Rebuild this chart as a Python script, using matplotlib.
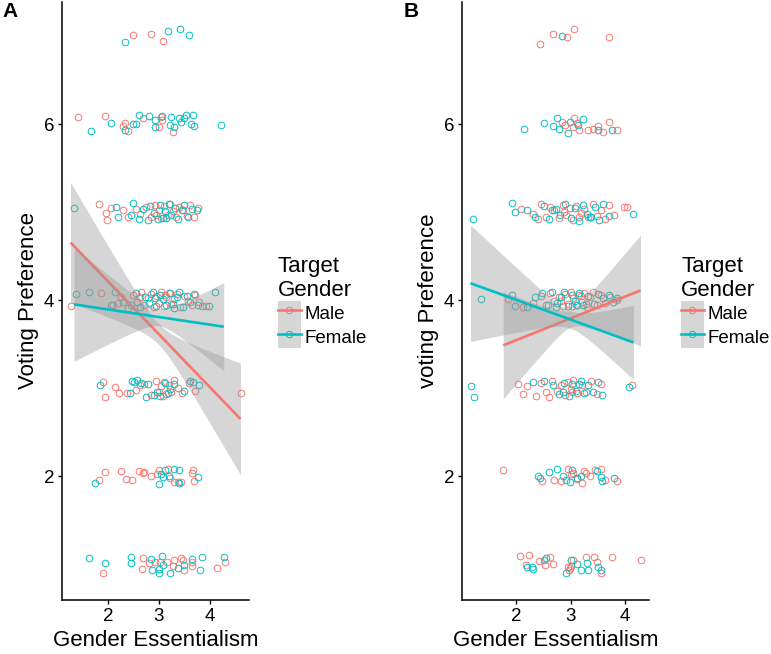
import numpy as np
import matplotlib
matplotlib.use("Agg")
import matplotlib.pyplot as plt
from matplotlib.lines import Line2D
from matplotlib.patches import Patch
from matplotlib.legend_handler import HandlerTuple

plt.rcParams['font.family'] = ['Liberation Sans', 'DejaVu Sans']

MALE_COLOR = "#F8766D"
FEMALE_COLOR = "#00BFC4"
BAND_COLOR = "#999999"

# ---- panel A points (jittered), grouped by response level ----
A_MALE_X = (
    [2.50, 2.85, 3.09]                                                       # 7
    + [1.41, 1.94, 2.30, 2.34, 2.40, 2.69, 3.01, 3.05, 3.07, 3.27]           # 6
    + [1.82, 2.05, 1.96, 1.98, 2.40, 2.55, 2.62, 2.75, 2.85, 2.92, 3.00, 3.05, 3.10,
       3.18, 3.22, 3.28, 3.33, 3.40, 3.48, 3.55, 3.62, 3.70, 3.78, 2.30, 2.95]  # 5
    + [1.26, 1.86, 2.10, 2.25, 2.40, 2.50, 2.58, 2.65, 2.70, 2.78, 2.85, 2.90, 2.95,
       3.00, 3.05, 3.10, 3.15, 3.20, 3.25, 3.30, 3.35, 3.42, 3.50, 3.58, 3.65, 3.72,
       3.80, 3.85, 3.93, 2.20, 2.62, 3.12]                                   # 4
    + [1.90, 2.13, 2.22, 1.94, 2.37, 2.55, 2.70, 2.85, 2.95, 3.00, 3.05, 3.10, 3.15,
       3.20, 3.25, 3.30, 3.38, 3.45, 3.60, 3.72, 4.61, 2.62, 3.08]           # 3
    + [1.94, 1.82, 2.26, 2.36, 2.48, 2.61, 2.69, 2.71, 2.85, 2.97, 3.01, 3.19, 3.23,
       3.29, 3.37, 3.43, 3.66, 3.68, 3.70]                                   # 2
    + [1.90, 2.69, 2.81, 2.93, 3.03, 3.17, 3.29, 3.43, 3.47, 3.66, 3.66, 3.49, 2.67,
       4.14, 4.30, 3.27]                                                     # 1
)
A_MALE_Y = (
    [7.01, 7.03, 6.94]
    + [6.08, 6.09, 5.98, 6.01, 5.92, 6.07, 5.97, 6.08, 6.05, 5.91]
    + [5.09, 5.05, 4.99, 4.91, 4.94, 5.04, 4.98, 5.06, 4.95, 5.08, 5.02, 4.93, 5.07,
       4.97, 5.09, 5.01, 4.95, 5.06, 5.03, 4.96, 5.08, 4.94, 5.05, 5.02, 4.97]
    + [3.93, 4.08, 3.95, 4.03, 3.91, 4.06, 3.98, 4.09, 3.94, 4.02, 4.07, 3.92, 4.05,
       3.97, 4.09, 3.93, 4.04, 4.08, 3.96, 4.01, 4.07, 3.92, 4.05, 3.99, 3.94, 4.06,
       3.98, 3.93, 3.93, 3.97, 4.03, 4.06]
    + [3.07, 3.01, 2.94, 2.90, 2.94, 2.98, 3.05, 2.92, 3.08, 2.95, 3.02, 3.07, 2.93,
       3.04, 2.96, 3.09, 3.00, 2.94, 3.06, 2.97, 2.94, 3.03, 2.91]
    + [2.05, 1.96, 2.06, 1.97, 1.95, 2.06, 2.03, 2.05, 2.00, 2.02, 2.07, 2.08, 1.98,
       1.93, 1.93, 1.93, 2.03, 2.07, 1.94]
    + [0.90, 1.07, 1.01, 1.02, 1.02, 1.02, 1.05, 1.07, 1.05, 1.02, 0.98, 0.93, 0.94,
       0.95, 1.02, 0.98]
)
A_FEMALE_X = (
    [2.34, 3.19, 3.41, 3.60]
    + [1.66, 2.06, 2.34, 2.50, 2.55, 2.61, 2.81, 2.93, 2.93, 3.07, 3.23, 3.25, 3.29,
       3.39, 3.43, 3.49, 3.54, 3.64, 3.68, 3.70, 4.22]
    + [1.33, 2.15, 2.20, 2.50, 2.60, 2.68, 2.78, 2.82, 2.90, 2.98, 3.02, 3.12, 3.15,
       3.20, 3.25, 3.32, 3.38, 3.45, 3.50, 3.58, 3.65, 3.75, 2.45, 3.08]
    + [1.37, 1.62, 2.14, 2.30, 2.45, 2.55, 2.62, 2.72, 2.80, 2.88, 2.95, 3.02, 3.08,
       3.15, 3.22, 3.28, 3.35, 3.40, 3.48, 3.55, 3.62, 3.70, 3.78, 3.98, 4.10, 2.05,
       2.92, 3.30]
    + [1.84, 2.43, 2.47, 2.52, 2.58, 2.65, 2.75, 2.78, 2.90, 2.97, 3.02, 3.12, 3.18,
       3.22, 3.30, 3.50, 3.62, 3.68, 3.80]
    + [1.74, 3.01, 3.09, 3.13, 3.29, 3.39, 3.39, 3.78, 3.05, 3.20]
    + [1.62, 1.94, 2.46, 2.46, 2.85, 2.87, 3.01, 3.07, 3.09, 3.23, 3.37, 3.50, 3.66,
       3.82, 3.86, 4.28, 3.01]
)
A_FEMALE_Y = (
    [6.93, 7.06, 7.08, 7.01]
    + [5.92, 6.01, 5.93, 6.00, 6.00, 6.10, 6.09, 6.05, 5.97, 6.09, 5.99, 6.08, 5.97,
       6.07, 6.03, 6.07, 6.10, 6.00, 6.10, 5.98, 5.99]
    + [5.05, 5.06, 4.95, 5.10, 4.92, 5.04, 4.91, 5.07, 4.99, 4.92, 5.08, 5.01, 4.93,
       5.09, 4.97, 5.05, 4.92, 5.02, 5.08, 4.95, 5.04, 5.03, 4.97, 4.93]
    + [4.07, 4.09, 4.09, 3.98, 3.95, 4.08, 3.92, 4.04, 3.97, 4.09, 3.93, 4.06, 4.01,
       3.94, 4.08, 3.96, 4.03, 4.09, 3.92, 4.05, 3.98, 4.07, 3.94, 3.93, 4.09, 3.95,
       4.02, 3.91]
    + [3.03, 2.94, 3.08, 3.07, 3.09, 3.06, 2.90, 3.05, 2.92, 2.96, 2.91, 3.06, 2.94,
       2.99, 3.05, 2.97, 3.08, 3.07, 3.04]
    + [1.92, 1.91, 1.99, 2.07, 2.08, 2.07, 1.92, 1.99, 2.02, 2.00]
    + [1.07, 1.01, 1.08, 1.01, 1.06, 0.93, 0.90, 1.09, 0.99, 0.90, 0.95, 0.99, 1.06,
       0.93, 1.08, 1.08, 0.94]
)

# ---- panel B points ----
B_MALE_X = (
    [2.44, 2.68, 2.94, 3.06, 3.71]
    + [2.84, 2.90, 3.06, 3.12, 3.16, 3.32, 3.41, 3.50, 3.60, 3.71, 3.85, 3.05]
    + [2.08, 2.30, 2.45, 2.55, 2.62, 2.70, 2.78, 2.85, 2.92, 2.98, 3.05, 3.10, 3.18,
       3.25, 3.32, 3.40, 3.48, 3.55, 3.62, 3.70, 3.80, 3.98, 4.03, 2.88, 3.15, 2.40]
    + [1.85, 2.13, 2.30, 2.45, 2.55, 2.62, 2.70, 2.78, 2.85, 2.90, 2.95, 3.00, 3.05,
       3.10, 3.15, 3.20, 3.25, 3.30, 3.35, 3.40, 3.48, 3.55, 3.62, 3.72, 3.85, 2.82,
       3.02, 3.18, 3.28]
    + [2.04, 2.12, 2.20, 2.37, 2.45, 2.55, 2.65, 2.75, 2.82, 2.90, 2.95, 3.00, 3.05,
       3.12, 3.20, 3.28, 3.38, 3.48, 3.55, 4.13, 2.60, 3.02]
    + [1.76, 2.48, 2.70, 2.82, 2.95, 3.00, 3.05, 3.12, 3.20, 3.28, 3.35, 3.45, 3.55,
       3.62, 3.85, 3.25]
    + [2.07, 2.24, 2.17, 2.42, 2.61, 2.68, 2.53, 2.95, 2.97, 3.05, 3.28, 3.43, 3.49,
       3.56, 3.76, 4.28, 2.98, 3.00]
)
B_MALE_Y = (
    [6.91, 7.03, 6.99, 7.08, 6.99]
    + [6.03, 5.99, 6.07, 6.01, 5.93, 5.93, 5.95, 5.98, 5.91, 6.02, 5.93, 5.97]
    + [5.04, 4.98, 5.09, 4.94, 5.06, 5.02, 4.93, 5.08, 4.97, 5.05, 4.91, 5.07, 4.99,
       5.04, 4.95, 5.09, 4.96, 5.03, 4.92, 5.08, 4.97, 5.06, 5.06, 5.00, 4.94, 4.92]
    + [4.01, 3.92, 3.97, 4.05, 3.94, 4.08, 3.99, 4.03, 3.93, 4.07, 3.96, 4.09, 4.02,
       3.94, 4.06, 3.98, 4.08, 3.92, 4.04, 4.09, 3.95, 4.06, 3.97, 4.03, 4.00, 3.99,
       3.93, 4.05, 3.96]
    + [3.05, 2.93, 3.02, 2.91, 3.06, 2.95, 3.08, 2.97, 3.04, 2.92, 3.07, 2.99, 3.09,
       2.94, 3.03, 2.96, 3.08, 2.93, 3.05, 3.03, 2.90, 2.95]
    + [2.07, 1.94, 1.96, 1.94, 2.08, 2.02, 2.04, 1.97, 1.92, 2.03, 2.00, 2.07, 2.08,
       1.95, 1.94, 2.06]
    + [1.09, 1.10, 0.99, 1.04, 1.08, 1.00, 0.99, 0.97, 0.93, 1.05, 1.08, 1.08, 1.02,
       0.90, 1.08, 1.05, 0.95, 0.98]
)
B_FEMALE_X = (
    [2.84]
    + [2.15, 2.51, 2.68, 2.75, 2.79, 2.95, 2.99, 3.14, 3.23, 3.50, 3.76]
    + [1.21, 1.93, 1.97, 2.20, 2.35, 2.50, 2.60, 2.72, 2.80, 2.90, 3.00, 3.08, 3.15,
       3.22, 3.30, 3.38, 3.45, 3.52, 3.60, 3.70, 4.15, 2.65, 3.35]
    + [1.36, 1.93, 1.97, 2.20, 2.35, 2.48, 2.58, 2.65, 2.75, 2.82, 2.88, 2.95, 3.02,
       3.08, 3.15, 3.22, 3.32, 3.42, 3.50, 3.60, 3.70, 3.78, 3.85, 2.72, 3.12]
    + [1.16, 1.23, 2.31, 2.50, 2.68, 2.78, 2.88, 2.97, 3.03, 3.10, 3.18, 3.25, 3.32,
       3.40, 3.50, 3.58, 4.07, 2.85, 3.15]
    + [2.40, 2.43, 2.60, 2.75, 2.85, 2.98, 3.02, 3.12, 3.18, 3.48, 3.55, 3.58, 3.80, 2.92]
    + [2.20, 2.28, 2.31, 2.51, 2.55, 2.92, 3.01, 3.12, 3.19, 3.30, 3.32, 3.50, 3.56]
)
B_FEMALE_Y = (
    [7.00]
    + [5.94, 6.01, 5.98, 6.07, 5.94, 5.90, 6.03, 5.99, 6.06, 5.93, 5.93]
    + [4.92, 5.10, 5.00, 5.02, 4.95, 5.07, 4.92, 5.04, 4.97, 5.09, 4.93, 5.05, 4.90,
       5.08, 4.98, 4.94, 5.06, 4.91, 5.09, 4.96, 4.98, 5.02, 4.95]
    + [4.01, 4.06, 3.93, 3.92, 4.04, 4.08, 3.95, 4.09, 3.97, 4.03, 4.09, 3.93, 4.06,
       3.99, 4.08, 3.94, 4.05, 3.96, 4.07, 4.02, 4.06, 3.98, 4.02, 3.92, 3.95]
    + [3.02, 2.90, 3.07, 3.08, 3.04, 2.93, 3.06, 2.91, 3.05, 2.97, 3.08, 2.94, 3.03,
       2.96, 3.07, 2.92, 3.01, 2.95, 3.05]
    + [2.00, 1.98, 2.05, 2.08, 2.00, 1.93, 2.07, 1.98, 2.00, 2.06, 1.99, 1.94, 1.98, 1.95]
    + [0.97, 0.97, 0.94, 1.05, 1.07, 0.90, 1.05, 1.00, 0.93, 1.01, 0.93, 0.97, 0.93]
)

# linear fits: intercept, slope, ci half-width at xbar, ci growth, xbar
A_MALE_FIT = [5.41, -0.599, 0.12, 0.387, 3.0]
A_FEMALE_FIT = [4.066, -0.086, 0.10, 0.383, 3.0]
B_MALE_FIT = [3.049, 0.248, 0.10, 0.485, 3.0]
B_FEMALE_FIT = [4.453, -0.225, 0.10, 0.356, 3.0]

GROUPS = ["Male", "Female"]
X_TICKS = [2, 3, 4]
Y_TICKS = [2, 4, 6]


def draw_smooth(ax, xs, fit, color):
    b0, b1, h0, c, xbar = fit
    x = np.linspace(min(xs), max(xs), 80)
    y = b0 + b1 * x
    hw = np.sqrt(h0 ** 2 + (c * (x - xbar)) ** 2)
    ax.fill_between(x, y - hw, y + hw, color=BAND_COLOR, alpha=0.4, lw=0, zorder=3)
    ax.plot(x, y, color=color, lw=1.9, zorder=3, solid_capstyle='butt')


def draw_panel(ax, mx, my, fx, fy, mfit, ffit, ylabel):
    ax.plot(mx, my, 'o', mfc='none', mec=MALE_COLOR, ms=4.8, mew=0.7, zorder=2)
    ax.plot(fx, fy, 'o', mfc='none', mec=FEMALE_COLOR, ms=4.8, mew=0.7, zorder=2)
    draw_smooth(ax, mx, mfit, MALE_COLOR)
    draw_smooth(ax, fx, ffit, FEMALE_COLOR)

    allx = mx + fx
    ally = my + fy
    dx = (max(allx) - min(allx)) * 0.05
    dy = (max(ally) - min(ally)) * 0.05
    ax.set_xlim(min(allx) - dx, max(allx) + dx)
    ax.set_ylim(min(ally) - dy, max(ally) + dy)
    ax.set_xticks(X_TICKS)
    ax.set_yticks(Y_TICKS)
    for s in ['top', 'right']:
        ax.spines[s].set_visible(False)
    for s in ['left', 'bottom']:
        ax.spines[s].set_linewidth(1.1)
    ax.tick_params(direction='out', length=3.2, width=1.0, labelsize=13.5, pad=2.5,
                   colors='black')
    ax.set_xlabel("Gender Essentialism", fontsize=16, labelpad=4)
    ax.set_ylabel(ylabel, fontsize=16, labelpad=3)


def add_legend(ax, fig, x_px, y_px):
    key_bg = Patch(facecolor="#D6D6D6", edgecolor='none')
    handles = []
    for col in [MALE_COLOR, FEMALE_COLOR]:
        ln = Line2D([], [], color=col, lw=1.9, marker='o', mfc='none', mec=col,
                    ms=4.6, mew=0.7)
        handles.append((key_bg, ln))
    ax.legend(handles, GROUPS, handler_map={tuple: HandlerTuple(ndivide=1, pad=0)},
              title="Target\nGender", loc='upper left',
              bbox_to_anchor=(x_px / 771, 1 - y_px / 654), bbox_transform=fig.transFigure,
              frameon=False, fontsize=13.5, title_fontsize=16, handlelength=1.2,
              handleheight=1.55, labelspacing=0.0, handletextpad=0.22, borderpad=0,
              borderaxespad=0, numpoints=1, alignment='left')


fig = plt.figure(figsize=(7.71, 6.54), dpi=100)
ax_a = fig.add_axes([62 / 771, 54 / 654, 187 / 771, 598 / 654])
ax_b = fig.add_axes([462 / 771, 54 / 654, 187 / 771, 598 / 654])

draw_panel(ax_a, A_MALE_X, A_MALE_Y, A_FEMALE_X, A_FEMALE_Y, A_MALE_FIT, A_FEMALE_FIT,
           "Voting Preference")
draw_panel(ax_b, B_MALE_X, B_MALE_Y, B_FEMALE_X, B_FEMALE_Y, B_MALE_FIT, B_FEMALE_FIT,
           "voting Preference")
add_legend(ax_a, fig, 278, 256)
add_legend(ax_b, fig, 681, 256)

fig.text(2 / 771, 1 - 2 / 654, "A", fontsize=15, fontweight='bold', va='top', ha='left')
fig.text(404 / 771, 1 - 2 / 654, "B", fontsize=15, fontweight='bold', va='top', ha='left')

fig.savefig("out.png", dpi=100)
